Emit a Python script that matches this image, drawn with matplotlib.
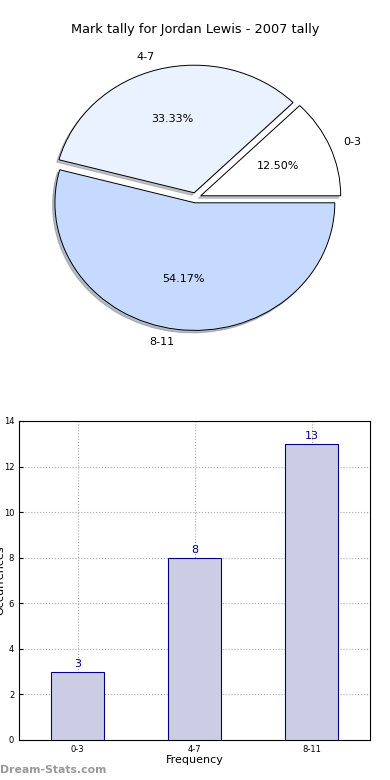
import matplotlib
matplotlib.use("Agg")
import matplotlib.pyplot as plt

# data
labels = ["0-3", "4-7", "8-11"]
counts = [3, 8, 13]
pie_colors = ["#FFFFFF", "#EAF1FF", "#C6DAFF"]

fig = plt.figure(figsize=(3.9, 7.8), dpi=100)

# pie on top
ax1 = fig.add_axes([0.053, 0.542, 0.897, 0.409])
ax1.pie(
    counts,
    labels=labels,
    colors=pie_colors,
    explode=[0.04, 0.04, 0.04],
    autopct="%.2f%%",
    shadow={"ox": -0.012, "oy": -0.014, "shade": 0.45},
    startangle=0,
    wedgeprops={"edgecolor": "black", "linewidth": 0.7},
    textprops={"fontsize": 8},
)
ax1.set_aspect("auto")
ax1.set_xlim(-1.25, 1.25)
ax1.set_ylim(-1.25, 1.25)

fig.text(0.5, 1 - 30 / 780, "Mark tally for Jordan Lewis - 2007 tally",
         ha="center", va="center", fontsize=9.3)

# bar chart below
ax2 = fig.add_axes([0.049, 0.0513, 0.9, 0.409])
x = range(len(labels))
ax2.bar(x, counts, width=0.45, color="#CCCCE5", edgecolor="#000080",
        linewidth=0.8, zorder=3)
for i, v in enumerate(counts):
    ax2.text(i, v + 0.1, str(v), ha="center", va="bottom",
             color="#000080", fontsize=8, zorder=4)

ax2.set_xlim(-0.5, 2.5)
ax2.set_ylim(0, 14)
ax2.set_yticks(range(0, 15, 2))
ax2.set_xticks(list(x))
ax2.set_xticklabels(labels)
ax2.tick_params(labelsize=6, direction="in", length=3)
ax2.grid(True, linestyle=":", color="#aaaaaa", linewidth=0.8, zorder=0)
ax2.set_xlabel("Frequency", fontsize=8, labelpad=1)

# y label sits half off the left edge, as in the original
fig.text(0.0, 1 - 580 / 780, "Occurrences", rotation=90,
         ha="center", va="center", fontsize=8)

fig.text(0.0, 1 - 770 / 780, "Dream-Stats.com", ha="left", va="center",
         fontsize=7.8, color="#999999", fontweight="bold")

fig.savefig("out.png", dpi=100)
